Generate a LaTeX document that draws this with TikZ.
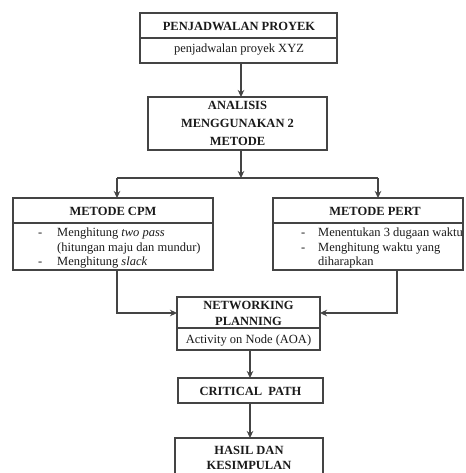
\documentclass[tikz,border=0pt]{standalone}
\usepackage{fontspec}
\setmainfont{Liberation Serif}
\usetikzlibrary{arrows.meta}
\definecolor{ln}{HTML}{444444}
\definecolor{tx}{HTML}{1A1A1A}
\tikzset{
  box/.style={draw=ln, line width=1.4pt, rectangle, inner sep=0pt, outer sep=0pt},
  conn/.style={draw=ln, line width=1.2pt},
  arr/.style={conn, -{Stealth[length=7pt,width=6.5pt]}},
  ttl/.style={font=\fontsize{12.5}{16}\selectfont\bfseries, text=tx, inner sep=0pt, align=center},
  txt/.style={font=\fontsize{12.5}{14.5}\selectfont, text=tx, inner sep=0pt},
  item/.style={txt, anchor=base west},
}
\begin{document}
\begin{tikzpicture}[x=1pt,y=-1pt]
\clip (0,0) rectangle (465,473);
\fill[white] (0,0) rectangle (465,473);
% boxes
\node[box, minimum width=197pt, minimum height=50pt] (top) at (238.5,38) {};
\node[box, minimum width=179pt, minimum height=53pt] (ana) at (237.5,123.5) {};
\node[box, minimum width=200pt, minimum height=72pt] (cpm) at (113,234) {};
\node[box, minimum width=190pt, minimum height=72pt] (pert) at (368,234) {};
\node[box, minimum width=143pt, minimum height=53pt] (net) at (248.5,323.5) {};
\node[box, minimum width=145pt, minimum height=25pt] (crit) at (250.5,390.5) {};
\node[box, minimum width=148pt, minimum height=52pt] (hasil) at (249,464) {};
% dividers
\draw[conn] (top.west) -- (top.east);
\draw[conn] ([yshift=11pt]cpm.west) -- ([yshift=11pt]cpm.east);
\draw[conn] ([yshift=11pt]pert.west) -- ([yshift=11pt]pert.east);
\draw[conn] ([yshift=-4.5pt]net.west) -- ([yshift=-4.5pt]net.east);
% texts
\node[ttl] (t1) at (239,26) {PENJADWALAN PROYEK};
\node[txt] (t2) at (239,50) {penjadwalan proyek XYZ};
\node[ttl, font=\fontsize{12.5}{18}\selectfont\bfseries] (t3) at (237.5,123) {ANALISIS\\MENGGUNAKAN 2\\METODE};
\node[ttl] (t4) at (113,211) {METODE CPM};
\node[item] (c1d) at (38,236) {-};
\node[item] (c1) at (57,236) {Menghitung \textit{two pass}};
\node[item] (c2) at (57,251) {(hitungan maju dan mundur)};
\node[item] (c3d) at (38,265) {-};
\node[item] (c3) at (57,265) {Menghitung \textit{slack}};
\node[ttl] (t5) at (375,211) {METODE PERT};
\node[item] (p1d) at (301,236) {-};
\node[item] (p1) at (318,236) {Menentukan 3 dugaan waktu};
\node[item] (p2d) at (301,251) {-};
\node[item] (p2) at (318,251) {Menghitung waktu yang};
\node[item] (p3) at (318,265) {diharapkan};
\node[ttl] (t6) at (248.5,313) {NETWORKING\\PLANNING};
\node[txt] (t7) at (248.5,341) {Activity on Node (AOA)};
\node[ttl] (t8) at (250.5,391) {CRITICAL\ \ PATH};
\node[ttl, font=\fontsize{12.5}{15}\selectfont\bfseries] (t9) at (249,458) {HASIL DAN\\KESIMPULAN};
% connectors
\coordinate (j) at (241,178);
\coordinate (jl) at (117,178);
\coordinate (jr) at (378,178);
\draw[arr] (top.south -| j) -- (ana.north -| j);
\draw[arr] (ana.south -| j) -- (j);
\draw[conn] (jl) -- (jr);
\draw[arr] (jl) -- (cpm.north -| jl);
\draw[arr] (jr) -- (pert.north -| jr);
\coordinate (bl) at (117,313);
\coordinate (br) at (397,313);
\draw[arr] (cpm.south -| bl) -- (bl) -- (net.west |- bl);
\draw[arr] (pert.south -| br) -- (br) -- (net.east |- br);
\coordinate (cx) at (250,0);
\draw[arr] (net.south -| cx) -- (crit.north -| cx);
\draw[arr] (crit.south -| cx) -- (hasil.north -| cx);
\end{tikzpicture}
\end{document}
